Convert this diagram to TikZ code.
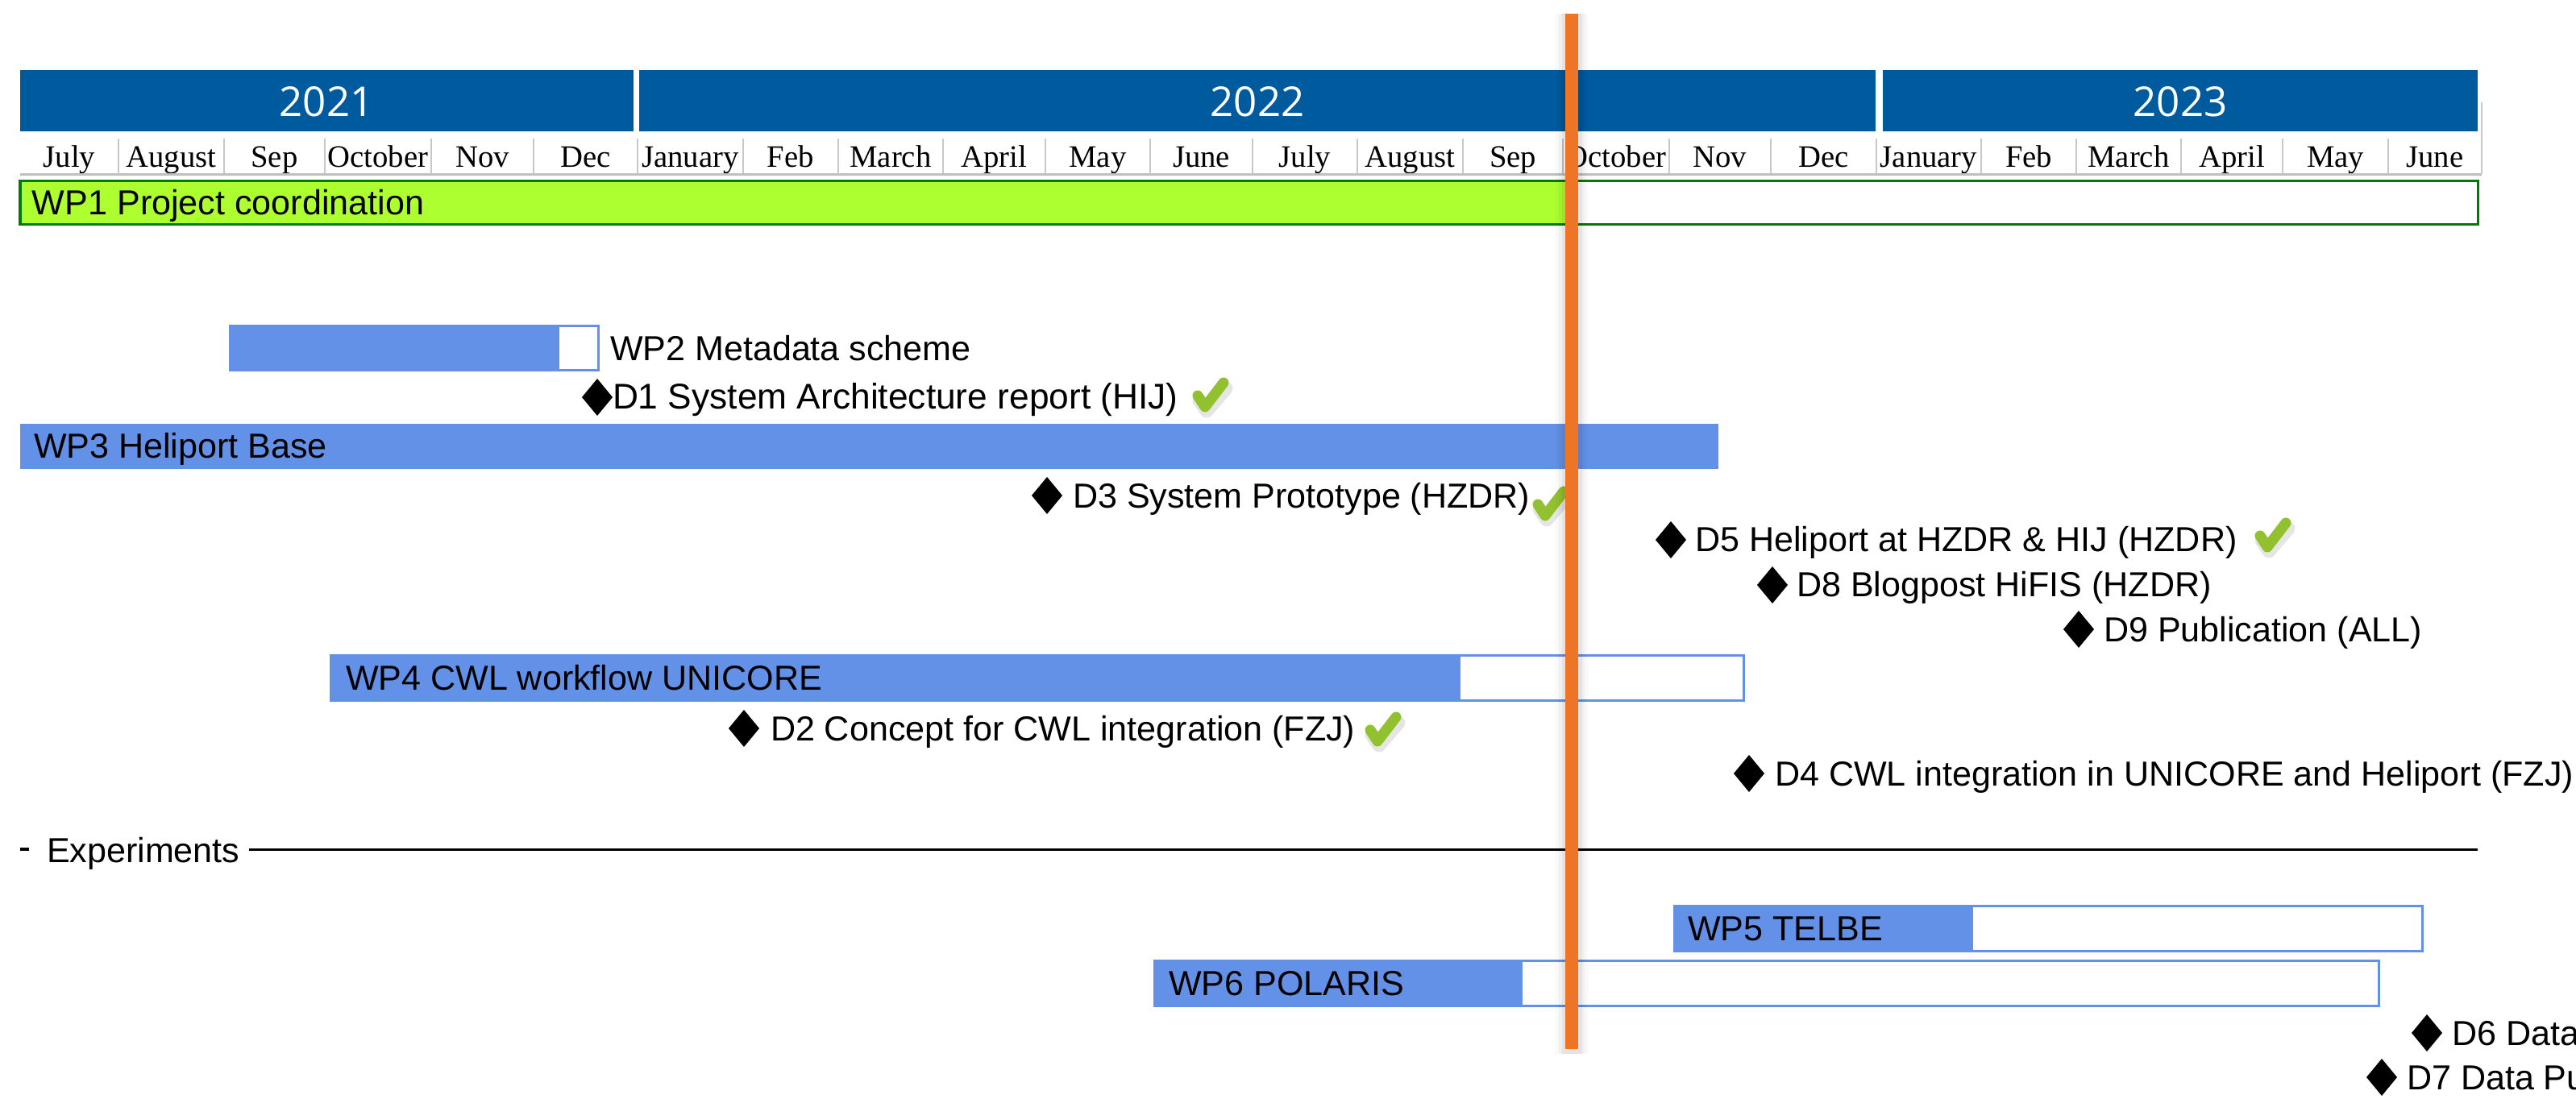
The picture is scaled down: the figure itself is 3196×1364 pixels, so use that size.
\documentclass[tikz,border=0pt]{standalone}
\usepackage{fontspec}
\setmainfont{Liberation Sans}
\newfontfamily\monthfont{Liberation Serif}
\newfontfamily\yearfont{Open Sans}
\usetikzlibrary{shapes.geometric}

\definecolor{yearblue}{RGB}{0,90,158}
\definecolor{barblue}{RGB}{100,145,232}
\definecolor{wpgreen}{RGB}{173,255,47}
\definecolor{wpgreenline}{RGB}{0,122,0}
\definecolor{nowline}{RGB}{238,116,38}
\definecolor{tickgreen}{RGB}{146,193,48}
\definecolor{sepgray}{RGB}{200,200,200}

\begin{document}
\begin{tikzpicture}[x=0.01cm, y=-0.01cm,
  every node/.style={inner sep=0pt, outer sep=0pt},
  yearlabel/.style={text=white, font=\yearfont\fontsize{14.5}{16}\selectfont, anchor=base},
  monthlabel/.style={font=\monthfont\fontsize{11}{13}\selectfont, anchor=base},
  wptext/.style={font=\fontsize{12.25}{14}\selectfont, anchor=base west},
  milestone/.style={diamond, fill=black, minimum width=0.38cm, minimum height=0.46cm},
  deliv/.style={font=\fontsize{12.25}{14}\selectfont, anchor=base west},
  openbar/.style={draw=barblue, line width=0.03cm, fill=white},
  donebar/.style={fill=barblue},
  tick/.pic={
    \draw[black, opacity=0.10, line width=0.17cm, line cap=round, line join=round]
      (-14,7) -- (-5,20) -- (19,-8);
    \draw[tickgreen, line width=0.13cm, line cap=round, line join=round]
      (-16,1) -- (-7,15) -- (16,-15);
  }
]
\useasboundingbox (0,0) rectangle (3196,1364);

% year header
\fill[yearblue] (25,87) rectangle (786,163);
\fill[yearblue] (793,87) rectangle (2327,163);
\fill[yearblue] (2336,87) rectangle (3074,163);
\node[yearlabel] (y2021) at (405,145) {2021};
\node[yearlabel] (y2022) at (1560,145) {2022};
\node[yearlabel] (y2023) at (2705,145) {2023};

% month row
\foreach \a/\b/\m [count=\i] in {25/147/July, 147/278/August, 278/403/Sep,
    403/535/October, 535/662/Nov, 662/791/Dec, 791/922/January, 922/1040/Feb,
    1040/1170/March, 1170/1297/April, 1297/1427/May, 1427/1554/June,
    1554/1684/July, 1684/1815/August, 1815/1939/Sep, 1939/2071/October,
    2071/2197/Nov, 2197/2328/Dec, 2328/2458/January, 2458/2576/Feb,
    2576/2706/March, 2706/2832/April, 2832/2963/May, 2963/3079/June}
  {\node[monthlabel] (m\i) at ({(\a+\b)/2},208) {\m};}
\foreach \s in {147,278,403,535,662,791,922,1040,1170,1297,1427,1554,1684,
    1815,1939,2071,2197,2328,2458,2576,2706,2832,2963}
  {\draw[sepgray, line width=0.02cm] (\s,172) -- (\s,215);}
\draw[sepgray, line width=0.02cm] (3079,127) -- (3079,216);
\draw[black!25, line width=0.03cm] (25,217) -- (3079,217);

% WP1
\fill[wpgreen] (25,225) rectangle (1950,279);
\draw[wpgreenline, line width=0.03cm] (25,225) rectangle (3074,279);
\node[wptext] (wp1) at (40,267) {WP1 Project coordination};

% WP2
\draw[openbar] (285,405) rectangle (742,460);
\fill[donebar] (285,405) rectangle (694,460);
\node[wptext] (wp2) at (757,448) {WP2 Metadata scheme};

% D1
\node[milestone] (d1) at (741,493) {};
\node[deliv, font=\fontsize{12.6}{14}\selectfont] (d1t) at (760,508) {D1 System Architecture report (HIJ)};
\pic (c1) at (1502,490) {tick};

% WP3
\fill[donebar] (25,526) rectangle (2132,582);
\node[wptext] (wp3) at (42,569) {WP3 Heliport Base};

% D3
\node[milestone] (d3) at (1299,615) {};
\node[deliv] (d3t) at (1331,630) {D3 System Prototype (HZDR)};
\pic (c3) at (1924,625) {tick};

% D5, D8, D9
\node[milestone] (d5) at (2073,670) {};
\node[deliv] (d5t) at (2103,685) {D5 Heliport at HZDR \& HIJ (HZDR)};
\pic (c5) at (2820,664) {tick};
\node[milestone] (d8) at (2199,726) {};
\node[deliv] (d8t) at (2229,741) {D8 Blogpost HiFIS (HZDR)};
\node[milestone] (d9) at (2579,781) {};
\node[deliv] (d9t) at (2610,796) {D9 Publication (ALL)};

% WP4
\draw[openbar] (410,813) rectangle (2163,869);
\fill[donebar] (410,813) rectangle (1812,869);
\node[wptext] (wp4) at (429,856) {WP4 CWL workflow UNICORE};

% D2, D4
\node[milestone] (d2) at (923,904) {};
\node[deliv] (d2t) at (956,919) {D2 Concept for CWL integration (FZJ)};
\pic (c2) at (1716,905) {tick};
\node[milestone] (d4) at (2170,960) {};
\node[deliv] (d4t) at (2202,975) {D4 CWL integration in UNICORE and Heliport (FZJ)};

% experiments separator
\coordinate (dashL) at (25,1054);
\coordinate (dashR) at (36,1054);
\coordinate (sepL) at (309,1054);
\coordinate (sepR) at (3074,1054);
\draw[line width=0.035cm] (dashL) -- (dashR);
\node[wptext] (exp) at (58,1070) {Experiments};
\draw[line width=0.03cm] (sepL) -- (sepR);

% WP5, WP6
\draw[openbar] (2077,1124) rectangle (3005,1180);
\fill[donebar] (2077,1124) rectangle (2448,1180);
\node[wptext] (wp5) at (2094,1167) {WP5 TELBE};
\draw[openbar] (1432,1192) rectangle (2951,1248);
\fill[donebar] (1432,1192) rectangle (1889,1248);
\node[wptext] (wp6) at (1450,1235) {WP6 POLARIS};

% D6, D7
\node[milestone] (d6) at (3011,1282) {};
\node[deliv] (d6t) at (3042,1297) {D6 Data};
\node[milestone] (d7) at (2955,1337) {};
\node[deliv] (d7t) at (2986,1352) {D7 Data Pu};

% today marker
\coordinate (nowtop) at (1950,17);
\coordinate (nowbot) at (1950,1302);
\foreach \w/\o in {0.40/0.025, 0.32/0.035, 0.25/0.05}
  {\draw[black, opacity=\o, line width=\w cm] (nowtop) -- ([yshift=-0.06cm]nowbot);}
\draw[nowline, line width=0.16cm] (nowtop) -- (nowbot);
\end{tikzpicture}
\end{document}
